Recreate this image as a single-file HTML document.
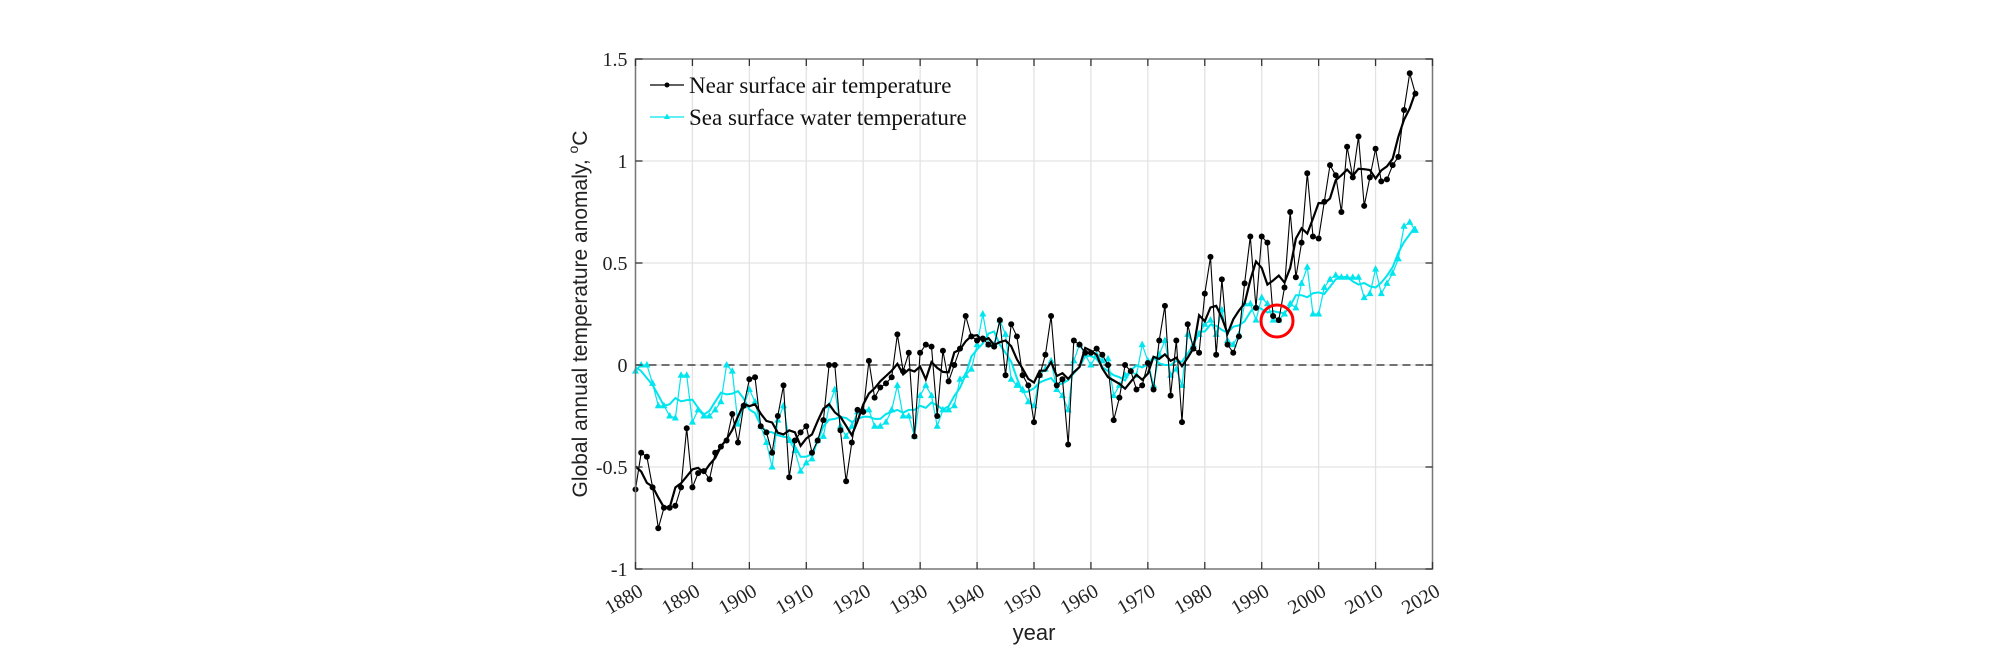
<!DOCTYPE html>
<html><head><meta charset="utf-8"><style>
html,body{margin:0;padding:0;background:#fff;}
svg{display:block;}
.t{font-family:"Liberation Serif",serif;font-size:20px;fill:#222;}
</style></head><body>
<svg id="s" width="2008" height="660" xmlns="http://www.w3.org/2000/svg"></svg>
<script>
var L=635.5,R=1432.5,T=59,B=569;
function X(y){return L+(y-1880)*(R-L)/140;}
function Y(v){return T+(1.5-v)*(B-T)/2.5;}
var air=[-0.61,-0.43,-0.45,-0.6,-0.8,-0.7,-0.7,-0.69,-0.6,-0.31,-0.6,-0.53,-0.52,-0.56,-0.43,-0.4,-0.37,-0.24,-0.38,-0.2,-0.07,-0.06,-0.3,-0.33,-0.43,-0.25,-0.1,-0.55,-0.37,-0.33,-0.3,-0.43,-0.37,-0.27,0.0,0.0,-0.32,-0.57,-0.38,-0.22,-0.23,0.02,-0.16,-0.11,-0.09,-0.06,0.15,-0.03,0.06,-0.35,0.06,0.1,0.09,-0.25,0.07,-0.08,0.0,0.08,0.24,0.14,0.12,0.13,0.1,0.09,0.22,-0.05,0.2,0.14,-0.05,-0.1,-0.28,-0.05,0.05,0.24,-0.1,-0.07,-0.39,0.12,0.1,0.06,0.06,0.08,0.05,0.0,-0.27,-0.16,0.0,-0.03,-0.12,-0.1,0.01,-0.12,0.12,0.29,-0.15,0.12,-0.28,0.2,0.08,0.06,0.35,0.53,0.05,0.42,0.1,0.06,0.14,0.4,0.63,0.28,0.63,0.6,0.24,0.22,0.38,0.75,0.43,0.6,0.94,0.63,0.62,0.8,0.98,0.93,0.75,1.07,0.92,1.12,0.78,0.92,1.06,0.9,0.91,0.98,1.02,1.25,1.43,1.33];
var sea=[-0.03,0.0,0.0,-0.09,-0.2,-0.2,-0.25,-0.26,-0.05,-0.05,-0.28,-0.22,-0.25,-0.25,-0.22,-0.18,0.0,-0.03,-0.29,-0.2,-0.12,-0.18,-0.3,-0.38,-0.5,-0.27,-0.2,-0.37,-0.42,-0.52,-0.48,-0.46,-0.37,-0.35,-0.2,-0.12,-0.3,-0.35,-0.3,-0.23,-0.22,-0.22,-0.3,-0.3,-0.28,-0.22,-0.1,-0.25,-0.25,-0.35,-0.15,-0.1,-0.15,-0.3,-0.22,-0.22,-0.2,-0.07,-0.05,-0.02,0.1,0.25,0.1,0.1,0.22,0.15,-0.07,-0.1,-0.12,-0.18,-0.2,-0.05,-0.02,0.02,-0.12,-0.15,-0.22,0.02,0.1,0.05,0.0,0.05,0.02,0.03,-0.15,-0.1,-0.05,-0.03,-0.05,0.1,0.02,-0.1,0.05,0.12,-0.05,-0.02,-0.1,0.15,0.1,0.15,0.2,0.22,0.15,0.27,0.12,0.1,0.15,0.3,0.3,0.22,0.33,0.3,0.22,0.22,0.25,0.3,0.28,0.4,0.48,0.25,0.25,0.38,0.42,0.44,0.43,0.43,0.43,0.43,0.33,0.35,0.47,0.35,0.4,0.45,0.52,0.68,0.7,0.66];
function smooth(a){var o=[];for(var i=0;i<a.length;i++){var s=0,n=0;for(var j=i-2;j<=i+2;j++){if(j>=0&&j<a.length){s+=a[j];n++;}}o.push(s/n);}return o;}
var h='';
// grid
for(var y=1880;y<=2020;y+=10){var x=X(y);h+='<line x1="'+x+'" y1="'+T+'" x2="'+x+'" y2="'+B+'" stroke="#e3e3e3" stroke-width="1.3"/>';}
for(var v=-1;v<=1.5;v+=0.5){var yy=Y(v);h+='<line x1="'+L+'" y1="'+yy+'" x2="'+R+'" y2="'+yy+'" stroke="#e3e3e3" stroke-width="1.3"/>';}
h+='<line x1="'+L+'" y1="'+Y(0)+'" x2="'+R+'" y2="'+Y(0)+'" stroke="#222" stroke-width="1.3" stroke-dasharray="8,5"/>';
function pts(a){return a.map(function(v,i){return X(1880+i).toFixed(1)+','+Y(v).toFixed(1);}).join(' ');}
var ss=smooth(sea),sa=smooth(air);
h+='<polyline points="'+pts(sea)+'" fill="none" stroke="#00e5ee" stroke-width="1.2"/>';
sea.forEach(function(v,i){var x=X(1880+i),y=Y(v);h+='<polygon points="'+x+','+(y-4)+' '+(x-3.5)+','+(y+2.5)+' '+(x+3.5)+','+(y+2.5)+'" fill="#00e5ee"/>';});
h+='<polyline points="'+pts(ss)+'" fill="none" stroke="#00e5ee" stroke-width="2"/>';
h+='<polyline points="'+pts(air)+'" fill="none" stroke="#000" stroke-width="1.1"/>';
air.forEach(function(v,i){h+='<circle cx="'+X(1880+i)+'" cy="'+Y(v)+'" r="3" fill="#000"/>';});
h+='<polyline points="'+pts(sa)+'" fill="none" stroke="#000" stroke-width="2.2"/>';
// axes box
h+='<rect x="'+L+'" y="'+T+'" width="'+(R-L)+'" height="'+(B-T)+'" fill="none" stroke="#777" stroke-width="1.5"/>';
for(var y=1880;y<=2020;y+=10){var x=X(y);h+='<line x1="'+x+'" y1="'+B+'" x2="'+x+'" y2="'+(B-7)+'" stroke="#333" stroke-width="1.3"/><line x1="'+x+'" y1="'+T+'" x2="'+x+'" y2="'+(T+7)+'" stroke="#333" stroke-width="1.3"/>';
h+='<text class="t" transform="translate('+(x+2)+','+(B+14)+') rotate(-30)" text-anchor="end" dominant-baseline="hanging">'+y+'</text>';}
var lab={'-1':'-1','-0.5':'-0.5','0':'0','0.5':'0.5','1':'1','1.5':'1.5'};
for(var v=-1;v<=1.5;v+=0.5){var yy=Y(v);h+='<line x1="'+L+'" y1="'+yy+'" x2="'+(L+7)+'" y2="'+yy+'" stroke="#333" stroke-width="1.3"/><line x1="'+R+'" y1="'+yy+'" x2="'+(R-7)+'" y2="'+yy+'" stroke="#333" stroke-width="1.3"/>';
h+='<text class="t" x="'+(L-8)+'" y="'+(yy+7)+'" text-anchor="end">'+lab[String(v)]+'</text>';}
// red circle
h+='<circle cx="1277" cy="321" r="16" fill="none" stroke="#f00" stroke-width="3"/>';
// legend
h+='<line x1="650" y1="85" x2="684" y2="85" stroke="#000" stroke-width="1.3"/><circle cx="667" cy="85" r="2.5" fill="#000"/>';
h+='<text x="689" y="93" font-family="Liberation Serif,serif" font-size="23" fill="#111">Near surface air temperature</text>';
h+='<line x1="650" y1="117" x2="684" y2="117" stroke="#00e5ee" stroke-width="1.3"/><polygon points="667,113.5 664,119 670,119" fill="#00e5ee"/>';
h+='<text x="689" y="125" font-family="Liberation Serif,serif" font-size="23" fill="#111">Sea surface water temperature</text>';
// labels
h+='<text x="1034" y="640" text-anchor="middle" font-family="Liberation Sans,sans-serif" font-size="22" fill="#222">year</text>';
h+='<text transform="translate(587,314) rotate(-90)" text-anchor="middle" font-family="Liberation Sans,sans-serif" font-size="21" fill="#222">Global annual temperature anomaly, <tspan font-size="14" dy="-9">o</tspan><tspan dy="9">C</tspan></text>';
document.getElementById('s').innerHTML=h;
</script>
</body></html>
